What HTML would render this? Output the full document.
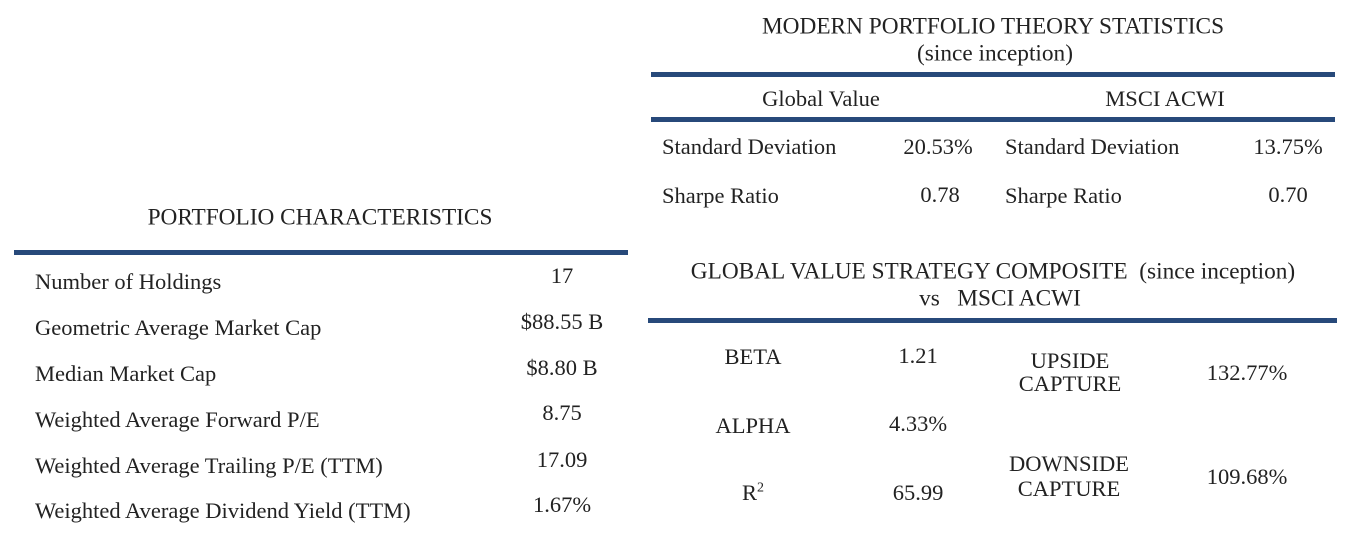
<!DOCTYPE html>
<html><head><meta charset="utf-8"><style>
body{margin:0;width:1352px;height:542px;background:#fff;position:relative;overflow:hidden;font-family:"Liberation Serif",serif;color:#222;font-size:22.5px}
.t{position:absolute;white-space:nowrap;line-height:1;transform:translate(-50%,-50%)}
.l{position:absolute;white-space:nowrap;line-height:1;transform:translateY(-50%)}
.h{font-size:23.3px}
.bar{position:absolute;background:#27497a;height:5px}
</style></head><body>
<div class="t h" style="left:993px;top:27px">MODERN PORTFOLIO THEORY STATISTICS</div>
<div class="t h" style="left:995px;top:54px">(since inception)</div>
<div class="bar" style="left:651px;top:72px;width:684px"></div>
<div class="t" style="left:821px;top:99px">Global Value</div>
<div class="t" style="left:1165px;top:99px">MSCI ACWI</div>
<div class="bar" style="left:651px;top:117px;width:684px"></div>
<div class="l" style="left:662px;top:147px">Standard Deviation</div>
<div class="t" style="left:938px;top:147px">20.53%</div>
<div class="l" style="left:1005px;top:147px">Standard Deviation</div>
<div class="t" style="left:1288px;top:147px">13.75%</div>
<div class="l" style="left:662px;top:196px">Sharpe Ratio</div>
<div class="t" style="left:940px;top:195px">0.78</div>
<div class="l" style="left:1005px;top:196px">Sharpe Ratio</div>
<div class="t" style="left:1288px;top:195px">0.70</div>

<div class="t h" style="left:320px;top:218px">PORTFOLIO CHARACTERISTICS</div>
<div class="bar" style="left:14px;top:250px;width:614px"></div>
<div class="l" style="left:35px;top:282px">Number of Holdings</div>
<div class="t" style="left:562px;top:276px">17</div>
<div class="l" style="left:35px;top:328px">Geometric Average Market Cap</div>
<div class="t" style="left:562px;top:322px">$88.55 B</div>
<div class="l" style="left:35px;top:374px">Median Market Cap</div>
<div class="t" style="left:562px;top:368px">$8.80 B</div>
<div class="l" style="left:35px;top:420px">Weighted Average Forward P/E</div>
<div class="t" style="left:562px;top:413px">8.75</div>
<div class="l" style="left:35px;top:466px">Weighted Average Trailing P/E (TTM)</div>
<div class="t" style="left:562px;top:460px">17.09</div>
<div class="l" style="left:35px;top:511px">Weighted Average Dividend Yield (TTM)</div>
<div class="t" style="left:562px;top:505px">1.67%</div>

<div class="t h" style="left:993px;top:272px">GLOBAL VALUE STRATEGY COMPOSITE&nbsp; (since inception)</div>
<div class="t h" style="left:1000px;top:299px">vs&nbsp;&nbsp; MSCI ACWI</div>
<div class="bar" style="left:648px;top:318px;width:689px"></div>
<div class="t" style="left:753px;top:357px">BETA</div>
<div class="t" style="left:918px;top:356px">1.21</div>
<div class="t" style="left:1070px;top:361px">UPSIDE</div>
<div class="t" style="left:1070px;top:384px">CAPTURE</div>
<div class="t" style="left:1247px;top:373px">132.77%</div>
<div class="t" style="left:753px;top:426px">ALPHA</div>
<div class="t" style="left:918px;top:424px">4.33%</div>
<div class="t" style="left:753px;top:493px">R<sup style="font-size:14px">2</sup></div>
<div class="t" style="left:918px;top:493px">65.99</div>
<div class="t" style="left:1069px;top:464px">DOWNSIDE</div>
<div class="t" style="left:1069px;top:489px">CAPTURE</div>
<div class="t" style="left:1247px;top:477px">109.68%</div>
</body></html>
